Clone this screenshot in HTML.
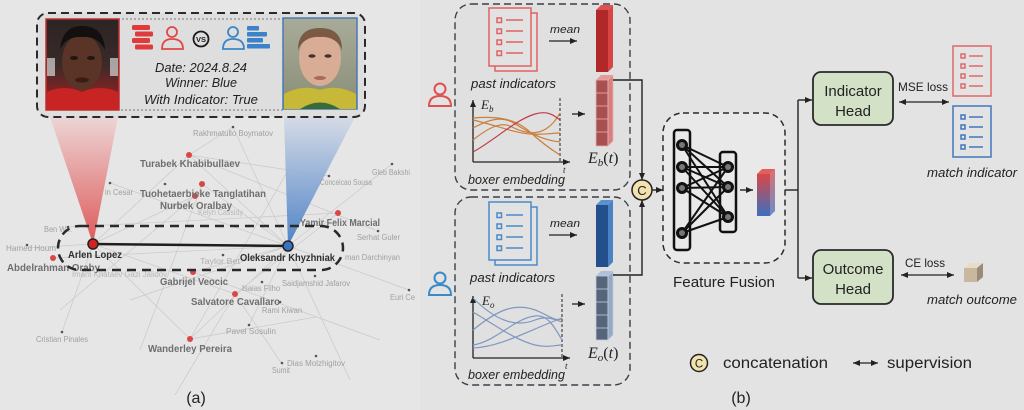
<!DOCTYPE html>
<html><head><meta charset="utf-8"><style>
html,body{margin:0;padding:0;background:#e3e3e3;}
svg{display:block;font-family:"Liberation Sans",sans-serif;}
</style></head><body>
<svg width="1024" height="410" viewBox="0 0 1024 410" xmlns="http://www.w3.org/2000/svg">
<defs>
<marker id="ar" markerWidth="8" markerHeight="8" refX="7" refY="4" orient="auto" markerUnits="userSpaceOnUse"><path d="M0,1 L7,4 L0,7 z" fill="#222"/></marker>
<marker id="al" markerWidth="8" markerHeight="8" refX="1" refY="4" orient="auto" markerUnits="userSpaceOnUse"><path d="M8,1 L1,4 L8,7 z" fill="#222"/></marker>
<linearGradient id="rtri" x1="0" y1="0" x2="0" y2="1"><stop offset="0" stop-color="#eed3d3"/><stop offset="1" stop-color="#dc4a4a"/></linearGradient>
<linearGradient id="btri" x1="0" y1="0" x2="0" y2="1"><stop offset="0" stop-color="#d3dae6"/><stop offset="1" stop-color="#3f78c4"/></linearGradient>
<linearGradient id="fuse" x1="0" y1="0" x2="0" y2="1"><stop offset="0" stop-color="#d84848"/><stop offset="1" stop-color="#3d6fc0"/></linearGradient>
<linearGradient id="p1bg" x1="0" y1="0" x2="0" y2="1"><stop offset="0" stop-color="#2c2424"/><stop offset="0.5" stop-color="#3a2a28"/><stop offset="1" stop-color="#b02020"/></linearGradient>
<linearGradient id="p2bg" x1="0" y1="0" x2="0" y2="1"><stop offset="0" stop-color="#a8ab98"/><stop offset="1" stop-color="#8a8e78"/></linearGradient>
</defs>

<!-- ===== Panel (a) ===== -->
<rect x="0" y="0" width="420" height="410" fill="#e6e6e6"/>
<!-- faint network lines -->
<g stroke="#c9c9c9" stroke-width="0.7" fill="none">
<line x1="189" y1="155" x2="93" y2="244"/><line x1="189" y1="155" x2="288" y2="246"/>
<line x1="202" y1="184" x2="288" y2="246"/><line x1="195" y1="196" x2="93" y2="244"/>
<line x1="338" y1="213" x2="235" y2="294"/><line x1="193" y1="272" x2="288" y2="246"/>
<line x1="190" y1="339" x2="93" y2="244"/><line x1="190" y1="339" x2="288" y2="246"/>
<line x1="62" y1="332" x2="93" y2="244"/><line x1="235" y1="294" x2="93" y2="244"/>
<line x1="392" y1="164" x2="288" y2="246"/><line x1="329" y1="176" x2="189" y2="155"/>
<line x1="233" y1="127" x2="288" y2="246"/><line x1="233" y1="127" x2="189" y2="155"/>
<line x1="110" y1="183" x2="288" y2="246"/><line x1="53" y1="258" x2="288" y2="246"/>
<line x1="409" y1="290" x2="288" y2="246"/><line x1="316" y1="317" x2="190" y2="339"/>
<line x1="282" y1="364" x2="235" y2="294"/><line x1="249" y1="325" x2="288" y2="246"/>
<line x1="27" y1="248" x2="93" y2="244"/><line x1="68" y1="227" x2="338" y2="213"/>
<line x1="375" y1="230" x2="189" y2="155"/><line x1="130" y1="300" x2="288" y2="246"/>
<line x1="175" y1="395" x2="235" y2="294"/><line x1="350" y1="380" x2="288" y2="246"/>
<line x1="140" y1="350" x2="202" y2="184"/><line x1="300" y1="150" x2="190" y2="339"/>
<line x1="60" y1="310" x2="195" y2="196"/><line x1="380" y1="340" x2="193" y2="272"/>
</g>
<!-- triangles -->
<polygon points="50,117 118,117 93,244" fill="url(#rtri)" opacity="0.9"/>
<polygon points="284,117 355,117 288,246" fill="url(#btri)" opacity="0.9"/>

<!-- card -->
<rect x="37" y="13" width="328" height="104" rx="11" fill="#dedede" stroke="#2a2a2a" stroke-width="2" stroke-dasharray="8 5"/>
<rect x="118" y="19" width="165" height="91" fill="none" stroke="#555" stroke-width="0.8" stroke-dasharray="2 2"/>
<!-- left photo -->
<rect x="46" y="19" width="73" height="91" fill="url(#p1bg)" stroke="#c03030" stroke-width="1.5"/>
<rect x="47" y="58" width="8" height="18" fill="#d8d8d8" opacity="0.7"/>
<rect x="110" y="58" width="8" height="18" fill="#d8d8d8" opacity="0.7"/>
<path d="M47,110 L47,92 Q64,84 82,92 Q100,84 118,92 L118,110 z" fill="#c82424"/>
<ellipse cx="82" cy="62" rx="20" ry="28" fill="#5a3426"/>
<path d="M60,50 Q62,26 82,26 Q104,26 105,50 Q98,36 82,37 Q66,36 60,50 z" fill="#141010"/>
<ellipse cx="74" cy="58" rx="4" ry="2" fill="#231612"/><ellipse cx="91" cy="58" rx="4" ry="2" fill="#231612"/>
<ellipse cx="82" cy="80" rx="7" ry="2.5" fill="#3a1c16"/>
<!-- right photo -->
<rect x="283" y="18" width="74" height="91" fill="url(#p2bg)" stroke="#4a7ab0" stroke-width="1.5"/>
<path d="M284,109 L284,94 Q302,84 320,90 Q338,84 356,94 L356,109 z" fill="#c8b838"/>
<path d="M300,109 Q320,96 340,109 z" fill="#3a6a3a"/>
<ellipse cx="320" cy="58" rx="21" ry="28" fill="#d9ad95"/>
<path d="M298,50 Q298,28 320,28 Q342,28 342,50 Q336,36 320,37 Q304,36 298,50 z" fill="#7a5a44"/>
<ellipse cx="312" cy="56" rx="3.5" ry="1.8" fill="#4a3028"/><ellipse cx="328" cy="56" rx="3.5" ry="1.8" fill="#4a3028"/>
<ellipse cx="320" cy="78" rx="6" ry="2" fill="#a86a5a"/>
<!-- icons -->
<g fill="#e03a3a">
<rect x="132" y="25" width="18" height="5" rx="1.5"/><rect x="135" y="31.5" width="18" height="5" rx="1.5"/>
<rect x="132" y="38" width="18" height="5" rx="1.5"/><rect x="135" y="44.5" width="18" height="5" rx="1.5"/>
</g>
<g fill="none" stroke="#e04848" stroke-width="1.8"><circle cx="172" cy="32" r="5"/><path d="M162,49 Q162,39 172,39 Q183,39 183,49 z"/></g>
<circle cx="201" cy="39" r="7.5" fill="none" stroke="#1a1a1a" stroke-width="1.8"/>
<text x="201" y="42" font-size="7.5" font-weight="bold" text-anchor="middle" fill="#1a1a1a">VS</text>
<g fill="none" stroke="#3b86c8" stroke-width="1.8"><circle cx="233" cy="32" r="5"/><path d="M223,49 Q223,39 233,39 Q244,39 244,49 z"/></g>
<g fill="#3b82c8">
<rect x="247" y="26" width="12" height="4.5" rx="1"/><rect x="247" y="32" width="20" height="4.5" rx="1"/>
<rect x="247" y="38" width="16" height="4.5" rx="1"/><rect x="247" y="44" width="23" height="4.5" rx="1"/>
</g>
<g font-size="13" font-style="italic" fill="#222" text-anchor="middle">
<text x="201" y="72" textLength="92" lengthAdjust="spacingAndGlyphs">Date: 2024.8.24</text>
<text x="201" y="87" textLength="72" lengthAdjust="spacingAndGlyphs">Winner: Blue</text>
<text x="201" y="104" textLength="114" lengthAdjust="spacingAndGlyphs">With Indicator: True</text>
</g>

<!-- small nodes -->
<g fill="#555"><circle cx="233" cy="127" r="1.3"/><circle cx="392" cy="164" r="1.3"/><circle cx="329" cy="176" r="1.3"/><circle cx="110" cy="183" r="1.3"/><circle cx="165" cy="184" r="1.3"/><circle cx="68" cy="227" r="1.3"/><circle cx="378" cy="231" r="1.3"/><circle cx="27" cy="245" r="1.3"/><circle cx="223" cy="255" r="1.3"/><circle cx="315" cy="276" r="1.3"/><circle cx="262" cy="282" r="1.3"/><circle cx="280" cy="302" r="1.3"/><circle cx="409" cy="290" r="1.3"/><circle cx="62" cy="332" r="1.3"/><circle cx="249" cy="325" r="1.3"/><circle cx="316" cy="356" r="1.3"/><circle cx="282" cy="363" r="1.3"/></g>
<g fill="#d84848"><circle cx="189" cy="155" r="3"/><circle cx="202" cy="184" r="3"/><circle cx="195" cy="196" r="3"/><circle cx="338" cy="213" r="3"/><circle cx="53" cy="258" r="3"/><circle cx="193" cy="272" r="3"/><circle cx="235" cy="294" r="3"/><circle cx="190" cy="339" r="3"/></g>

<!-- labels -->
<g font-size="8" fill="#a0a0a0">
<text x="193" y="136" textLength="80" lengthAdjust="spacingAndGlyphs">Rakhmatullo Boymatov</text>
<text x="372" y="175" textLength="38" lengthAdjust="spacingAndGlyphs">Gleb Bakshi</text>
<text x="320" y="185" textLength="52" lengthAdjust="spacingAndGlyphs">Conceicao Sousa</text>
<text x="105" y="195" textLength="28" lengthAdjust="spacingAndGlyphs">in Cesar</text>
<text x="198" y="215" textLength="45" lengthAdjust="spacingAndGlyphs" fill="#b8b8b8">Kelyn Cassidy</text>
<text x="44" y="232" textLength="28" lengthAdjust="spacingAndGlyphs">Ben W...</text>
<text x="357" y="240" textLength="43" lengthAdjust="spacingAndGlyphs">Serhat Guler</text>
<text x="6" y="251" textLength="50" lengthAdjust="spacingAndGlyphs">Hamed Houm</text>
<text x="200" y="264" textLength="40" lengthAdjust="spacingAndGlyphs" fill="#b0b0b0">Taylor Bet</text>
<text x="345" y="260" textLength="55" lengthAdjust="spacingAndGlyphs">man Darchinyan</text>
<text x="72" y="277" textLength="95" lengthAdjust="spacingAndGlyphs" fill="#b8b8b8">Imam Khataev  Gazi Jalidov</text>
<text x="242" y="291" textLength="38" lengthAdjust="spacingAndGlyphs">Isaias Filho</text>
<text x="282" y="286" textLength="68" lengthAdjust="spacingAndGlyphs">Saidjamshid Jafarov</text>
<text x="390" y="300" textLength="25" lengthAdjust="spacingAndGlyphs">Euri Ce</text>
<text x="262" y="313" textLength="40" lengthAdjust="spacingAndGlyphs">Rami Kiwan</text>
<text x="226" y="334" textLength="50" lengthAdjust="spacingAndGlyphs">Pavel Sosulin</text>
<text x="36" y="342" textLength="52" lengthAdjust="spacingAndGlyphs">Cristian Pinales</text>
<text x="287" y="366" textLength="58" lengthAdjust="spacingAndGlyphs">Dias Molzhigitov</text>
<text x="272" y="373" textLength="18" lengthAdjust="spacingAndGlyphs">Sumit</text>
</g>
<g font-size="10" font-weight="bold" fill="#6e6e6e">
<text x="140" y="167" textLength="100" lengthAdjust="spacingAndGlyphs">Turabek Khabibullaev</text>
<text x="140" y="197" textLength="126" lengthAdjust="spacingAndGlyphs">Tuohetaerbieke Tanglatihan</text>
<text x="160" y="209" textLength="72" lengthAdjust="spacingAndGlyphs">Nurbek Oralbay</text>
<text x="300" y="226" textLength="80" lengthAdjust="spacingAndGlyphs">Yamir Felix Marcial</text>
<text x="7" y="271" textLength="93" lengthAdjust="spacingAndGlyphs">Abdelrahman Oraby</text>
<text x="160" y="285" textLength="68" lengthAdjust="spacingAndGlyphs">Gabrijel Veocic</text>
<text x="191" y="305" textLength="89" lengthAdjust="spacingAndGlyphs">Salvatore Cavallaro</text>
<text x="148" y="352" textLength="84" lengthAdjust="spacingAndGlyphs">Wanderley Pereira</text>
</g>
<g font-size="10" font-weight="bold" fill="#2e2e2e">
<text x="68" y="258" textLength="54" lengthAdjust="spacingAndGlyphs">Arlen Lopez</text>
<text x="240" y="261" textLength="95" lengthAdjust="spacingAndGlyphs">Oleksandr Khyzhniak</text>
</g>
<!-- pill -->
<rect x="58" y="226" width="285" height="44" rx="22" fill="none" stroke="#2a2a2a" stroke-width="2.5" stroke-dasharray="9 6"/>
<line x1="93" y1="244" x2="288" y2="246" stroke="#1e1e1e" stroke-width="2.5"/>
<circle cx="93" cy="244" r="5" fill="#d42222" stroke="#222" stroke-width="1.5"/>
<circle cx="288" cy="246" r="5" fill="#3a72c2" stroke="#222" stroke-width="1.5"/>
<text x="196" y="403" font-size="16" text-anchor="middle" fill="#222">(a)</text>

<!-- ===== Panel (b) ===== -->
<rect x="455" y="4" width="175" height="186" rx="16" fill="#e0e0e0" stroke="#3a3f4a" stroke-width="1.4" stroke-dasharray="7 4"/>
<rect x="455" y="197" width="175" height="188" rx="16" fill="#e0e0e0" stroke="#3a3f4a" stroke-width="1.4" stroke-dasharray="7 4"/>

<!-- person icons -->
<g fill="none" stroke="#e05050" stroke-width="2"><circle cx="440" cy="89" r="5.5"/><path d="M429,106 Q429,96 440,96 Q451,96 451,106 z"/></g>
<g fill="none" stroke="#3b8ac8" stroke-width="2"><circle cx="440" cy="278" r="5.5"/><path d="M429,295 Q429,285 440,285 Q451,285 451,295 z"/></g>

<!-- red doc -->
<g fill="none" stroke="#e06262" stroke-width="1.5">
<rect x="495" y="13" width="42" height="58" fill="#e2e2e2"/>
<rect x="489" y="8" width="42" height="58" fill="#e2e2e2"/>
<rect x="497" y="18" width="4.5" height="4.5"/><line x1="506" y1="20" x2="523" y2="20"/>
<rect x="497" y="29" width="4.5" height="4.5"/><line x1="506" y1="31" x2="523" y2="31"/>
<rect x="497" y="40" width="4.5" height="4.5"/><line x1="506" y1="42" x2="523" y2="42"/>
<rect x="497" y="51" width="4.5" height="4.5"/><line x1="506" y1="53" x2="523" y2="53"/>
</g>
<!-- blue doc -->
<g fill="none" stroke="#4a8ac8" stroke-width="1.5">
<rect x="495" y="207" width="42" height="58" fill="#e2e2e2"/>
<rect x="489" y="202" width="42" height="58" fill="#e2e2e2"/>
<rect x="497" y="213" width="4.5" height="4.5"/><line x1="506" y1="215" x2="523" y2="215"/>
<rect x="497" y="224" width="4.5" height="4.5"/><line x1="506" y1="226" x2="523" y2="226"/>
<rect x="497" y="235" width="4.5" height="4.5"/><line x1="506" y1="237" x2="523" y2="237"/>
<rect x="497" y="246" width="4.5" height="4.5"/><line x1="506" y1="248" x2="523" y2="248"/>
</g>

<g font-size="11" font-style="italic" fill="#222">
<text x="550" y="33" textLength="30" lengthAdjust="spacingAndGlyphs">mean</text>
<text x="550" y="227" textLength="30" lengthAdjust="spacingAndGlyphs">mean</text>
</g>
<line x1="549" y1="41" x2="577" y2="41" stroke="#222" stroke-width="1.3" marker-end="url(#ar)"/>
<line x1="549" y1="235" x2="577" y2="235" stroke="#222" stroke-width="1.3" marker-end="url(#ar)"/>

<g font-size="13" font-style="italic" fill="#222">
<text x="471" y="88" textLength="85" lengthAdjust="spacingAndGlyphs">past indicators</text>
<text x="470" y="282" textLength="85" lengthAdjust="spacingAndGlyphs">past indicators</text>
<text x="468" y="184" textLength="97" lengthAdjust="spacingAndGlyphs">boxer embedding</text>
<text x="468" y="379" textLength="97" lengthAdjust="spacingAndGlyphs">boxer embedding</text>
</g>

<!-- red top bar -->
<polygon points="596,10 601,5 613,5 608,10" fill="#e05050"/>
<rect x="596" y="10" width="12" height="62" fill="#b02828"/>
<polygon points="608,10 613,5 613,67 608,72" fill="#d84444"/>
<!-- red segmented -->
<polygon points="596,80 601,75 613,75 608,80" fill="#e59a9a"/>
<g stroke="#e8b0b0" stroke-width="0.8">
<rect x="596" y="80" width="12" height="66" fill="#a85050"/>
<polygon points="608,80 613,75 613,141 608,146" fill="#d88080"/>
<line x1="596" y1="93" x2="608" y2="93"/><line x1="596" y1="106" x2="608" y2="106"/><line x1="596" y1="119" x2="608" y2="119"/><line x1="596" y1="132" x2="608" y2="132"/>
</g>
<!-- blue top bar -->
<polygon points="596,205 601,200 613,200 608,205" fill="#5a92d0"/>
<rect x="596" y="205" width="12" height="62" fill="#234f8a"/>
<polygon points="608,205 613,200 613,262 608,267" fill="#4a82c4"/>
<!-- blue segmented -->
<polygon points="596,276 601,271 613,271 608,276" fill="#b0c0d8"/>
<g stroke="#c0cce0" stroke-width="0.8">
<rect x="596" y="276" width="12" height="64" fill="#56657a"/>
<polygon points="608,276 613,271 613,335 608,340" fill="#96a8c4"/>
<line x1="596" y1="289" x2="608" y2="289"/><line x1="596" y1="302" x2="608" y2="302"/><line x1="596" y1="315" x2="608" y2="315"/><line x1="596" y1="328" x2="608" y2="328"/>
</g>

<!-- charts -->
<g stroke="#222" stroke-width="1.3" fill="none">
<line x1="473" y1="162" x2="473" y2="100" marker-end="url(#ar)"/>
<line x1="473" y1="162" x2="570" y2="162" marker-end="url(#ar)"/>
<line x1="473" y1="358" x2="473" y2="296" marker-end="url(#ar)"/>
<line x1="473" y1="358" x2="570" y2="358" marker-end="url(#ar)"/>
</g>
<line x1="560" y1="98" x2="560" y2="162" stroke="#222" stroke-width="1" stroke-dasharray="3 2"/>
<line x1="562" y1="294" x2="562" y2="358" stroke="#222" stroke-width="1" stroke-dasharray="3 2"/>
<g fill="none" stroke-width="1.2">
<path d="M473,118 C495,116 515,118 530,132 C543,144 552,150 560,155" stroke="#c88040"/>
<path d="M473,128 C488,120 500,116 512,122 C525,130 540,140 560,142" stroke="#c88040"/>
<path d="M473,140 C488,128 500,122 510,126 C525,134 545,140 560,113" stroke="#c88040"/>
<path d="M473,120 C495,125 515,133 530,134 C545,135 552,133 560,133" stroke="#c88040"/>
<path d="M473,152 C495,140 515,120 535,114 C548,110 555,116 560,120" stroke="#c03a4a"/>
<path d="M473,298 C495,320 515,328 535,320 C548,315 555,320 562,322" stroke="#7f97c0"/>
<path d="M473,330 C495,312 515,300 540,312 C552,318 558,322 562,318" stroke="#7f97c0"/>
<path d="M473,345 C495,342 515,318 535,316 C548,314 555,328 562,340" stroke="#7f97c0"/>
<path d="M473,312 C495,325 515,340 535,345 C548,348 555,345 562,345" stroke="#7f97c0"/>
<path d="M473,348 C500,347 525,332 562,318" stroke="#7f97c0"/>
</g>
<g font-family="Liberation Serif,serif" font-style="italic" fill="#222">
<text x="481" y="109" font-size="13">E<tspan font-size="9" dy="3">b</tspan></text>
<text x="482" y="305" font-size="13">E<tspan font-size="9" dy="3">o</tspan></text>
<text x="563" y="173" font-size="9">t</text>
<text x="565" y="369" font-size="9">t</text>
<text x="588" y="163" font-size="16">E<tspan font-size="11" dy="3">b</tspan><tspan dy="-3" font-style="normal">(</tspan>t<tspan font-style="normal">)</tspan></text>
<text x="588" y="358" font-size="16">E<tspan font-size="11" dy="3">o</tspan><tspan dy="-3" font-style="normal">(</tspan>t<tspan font-style="normal">)</tspan></text>
</g>
<line x1="572" y1="114" x2="585" y2="114" stroke="#222" stroke-width="1.3" marker-end="url(#ar)"/>
<line x1="572" y1="304" x2="585" y2="304" stroke="#222" stroke-width="1.3" marker-end="url(#ar)"/>

<!-- concat connectors -->
<polyline points="613,80 642,80 642,180" fill="none" stroke="#222" stroke-width="1.4" marker-end="url(#ar)"/>
<polyline points="613,275 642,275 642,200" fill="none" stroke="#222" stroke-width="1.4" marker-end="url(#ar)"/>
<circle cx="642" cy="190" r="10" fill="#f1e2ae" stroke="#222" stroke-width="1.5"/>
<text x="642" y="195" font-size="13" text-anchor="middle" fill="#222">C</text>
<line x1="652" y1="190" x2="663" y2="190" stroke="#222" stroke-width="1.4" marker-end="url(#ar)"/>

<!-- feature fusion -->
<rect x="663" y="113" width="122" height="150" rx="20" fill="#e9e9e9" stroke="#2a2a2a" stroke-width="1.5" stroke-dasharray="6 4"/>
<g stroke="#111" stroke-width="2">
<line x1="682" y1="145" x2="728" y2="167"/><line x1="682" y1="145" x2="728" y2="187"/><line x1="682" y1="145" x2="728" y2="217"/>
<line x1="682" y1="167" x2="728" y2="167"/><line x1="682" y1="167" x2="728" y2="187"/><line x1="682" y1="167" x2="728" y2="217"/>
<line x1="682" y1="188" x2="728" y2="167"/><line x1="682" y1="188" x2="728" y2="187"/><line x1="682" y1="188" x2="728" y2="217"/>
<line x1="682" y1="233" x2="728" y2="167"/><line x1="682" y1="233" x2="728" y2="187"/><line x1="682" y1="233" x2="728" y2="217"/>
</g>
<rect x="674" y="130" width="16" height="120" rx="3" fill="none" stroke="#111" stroke-width="2.5"/>
<rect x="720" y="152" width="16" height="80" rx="3" fill="none" stroke="#111" stroke-width="2.5"/>
<g fill="#777" stroke="#111" stroke-width="3">
<circle cx="682" cy="145" r="4.5"/><circle cx="682" cy="167" r="4.5"/><circle cx="682" cy="188" r="4.5"/><circle cx="682" cy="233" r="4.5"/>
<circle cx="728" cy="167" r="4.5"/><circle cx="728" cy="187" r="4.5"/><circle cx="728" cy="217" r="4.5"/>
</g>
<line x1="740" y1="190" x2="753" y2="190" stroke="#222" stroke-width="1.4" marker-end="url(#ar)"/>
<polygon points="757,174 762,169 775,169 770,174" fill="#e06060"/>
<rect x="757" y="174" width="13" height="42" fill="url(#fuse)"/>
<polygon points="770,174 775,169 775,211 770,216" fill="url(#fuse)" opacity="0.75"/>
<text x="724" y="287" font-size="14.5" text-anchor="middle" fill="#222" textLength="102" lengthAdjust="spacingAndGlyphs">Feature Fusion</text>

<!-- branches -->
<line x1="785" y1="190" x2="798" y2="190" stroke="#222" stroke-width="1.4"/>
<line x1="798" y1="100" x2="798" y2="278" stroke="#222" stroke-width="1.4"/>
<line x1="798" y1="100" x2="812" y2="100" stroke="#222" stroke-width="1.4" marker-end="url(#ar)"/>
<line x1="798" y1="278" x2="812" y2="278" stroke="#222" stroke-width="1.4" marker-end="url(#ar)"/>

<rect x="813" y="72" width="80" height="53" rx="8" fill="#d3e1c6" stroke="#2a2a2a" stroke-width="1.8"/>
<text x="853" y="96" font-size="15" text-anchor="middle" fill="#222">Indicator</text>
<text x="853" y="116" font-size="15" text-anchor="middle" fill="#222">Head</text>
<rect x="813" y="250" width="80" height="54" rx="8" fill="#d3e1c6" stroke="#2a2a2a" stroke-width="1.8"/>
<text x="853" y="274" font-size="15" text-anchor="middle" fill="#222">Outcome</text>
<text x="853" y="294" font-size="15" text-anchor="middle" fill="#222">Head</text>

<text x="898" y="91" font-size="12" fill="#222" textLength="50" lengthAdjust="spacingAndGlyphs">MSE loss</text>
<line x1="899" y1="102" x2="949" y2="102" stroke="#222" stroke-width="1.3" marker-start="url(#al)" marker-end="url(#ar)"/>
<text x="905" y="267" font-size="12" fill="#222" textLength="40" lengthAdjust="spacingAndGlyphs">CE loss</text>
<line x1="901" y1="275" x2="954" y2="275" stroke="#222" stroke-width="1.3" marker-start="url(#al)" marker-end="url(#ar)"/>

<!-- match indicator docs -->
<g fill="none" stroke="#e06868" stroke-width="1.5">
<rect x="953" y="46" width="38" height="50"/>
<rect x="961" y="54" width="4" height="4"/><line x1="969" y1="56" x2="983" y2="56"/>
<rect x="961" y="64" width="4" height="4"/><line x1="969" y1="66" x2="983" y2="66"/>
<rect x="961" y="74" width="4" height="4"/><line x1="969" y1="76" x2="983" y2="76"/>
<rect x="961" y="84" width="4" height="4"/><line x1="969" y1="86" x2="983" y2="86"/>
</g>
<g fill="none" stroke="#3f78c0" stroke-width="1.5">
<rect x="953" y="106" width="38" height="51"/>
<rect x="961" y="115" width="4" height="4"/><line x1="969" y1="117" x2="983" y2="117"/>
<rect x="961" y="125" width="4" height="4"/><line x1="969" y1="127" x2="983" y2="127"/>
<rect x="961" y="135" width="4" height="4"/><line x1="969" y1="137" x2="983" y2="137"/>
<rect x="961" y="145" width="4" height="4"/><line x1="969" y1="147" x2="983" y2="147"/>
</g>
<text x="927" y="177" font-size="13" font-style="italic" fill="#222" textLength="90" lengthAdjust="spacingAndGlyphs">match indicator</text>

<!-- cube -->
<polygon points="964,268 970,263 983,263 977,268" fill="#e8dcc8"/>
<rect x="964" y="268" width="13" height="14" fill="#c8b8a0"/>
<polygon points="977,268 983,263 983,277 977,282" fill="#9a8a78"/>
<text x="927" y="304" font-size="13" font-style="italic" fill="#222" textLength="90" lengthAdjust="spacingAndGlyphs">match outcome</text>

<!-- legend -->
<circle cx="699" cy="363" r="8.5" fill="#f1e2ae" stroke="#222" stroke-width="1.5"/>
<text x="699" y="367.5" font-size="11.5" text-anchor="middle" fill="#222">C</text>
<text x="723" y="368" font-size="15.5" fill="#222" textLength="105" lengthAdjust="spacingAndGlyphs">concatenation</text>
<line x1="853" y1="363" x2="878" y2="363" stroke="#222" stroke-width="1.3" marker-start="url(#al)" marker-end="url(#ar)"/>
<text x="887" y="368" font-size="15.5" fill="#222" textLength="85" lengthAdjust="spacingAndGlyphs">supervision</text>
<text x="741" y="403" font-size="16" text-anchor="middle" fill="#222">(b)</text>
</svg>
</body></html>
